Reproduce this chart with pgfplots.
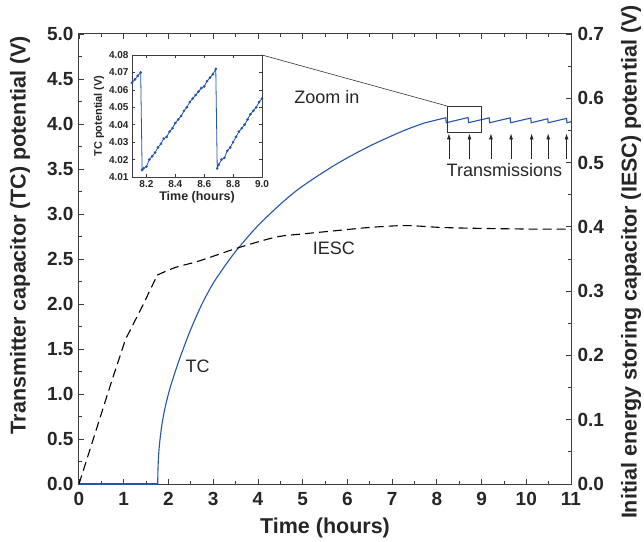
\documentclass[border=0pt]{standalone}
\usepackage{pgfplots}
\pgfplotsset{compat=1.18}
\usepackage{fontspec}
\setmainfont{Liberation Sans}
\usetikzlibrary{arrows.meta}
\definecolor{tcblue}{RGB}{35,85,170}
\definecolor{axgray}{RGB}{60,60,60}
\begin{document}
\begin{tikzpicture}
\begin{axis}[name=main, at={(0pt,0pt)}, anchor=south west,
  width=492pt, height=450pt, scale only axis,
  xmin=0, xmax=11, ymin=0, ymax=5,
  xtick={0,1,2,3,4,5,6,7,8,9,10,11},
  ytick={0,0.5,1,1.5,2,2.5,3,3.5,4,4.5,5},
  minor x tick num=1, minor y tick num=1,
  tick align=inside, ytick pos=left, xtick pos=both,
  major tick length=5pt, minor tick length=3pt,
  axis line style={axgray, line width=1pt},
  every tick/.style={axgray, line width=0.8pt},
  /pgf/number format/assume math mode=true,
  ticklabel style={font=\fontsize{19}{19}\selectfont\bfseries, text=black!85},
  yticklabel style={xshift=-2pt, /pgf/number format/.cd, fixed, fixed zerofill, precision=1},
  xticklabel style={yshift=-5pt},
  xlabel={Time (hours)}, ylabel={Transmitter capacitor (TC) potential (V)},
  label style={font=\fontsize{21.5}{21.5}\selectfont\bfseries, text=black!85},
  xlabel style={at={(axis description cs:0.5,-0.098)}, anchor=center},
  ylabel style={at={(axis description cs:-0.12,0.553)}, anchor=center},
]
\addplot[tcblue, line width=1.1pt] coordinates {(0,0) (1.76,0)};
\addplot[tcblue, line width=1.1pt, smooth] coordinates {
(1.76,0) (1.765,0.15) (1.78,0.32) (1.81,0.49) (1.86,0.68) (1.93,0.86) (2.02,1.04)
(2.12,1.20) (2.22,1.35) (2.33,1.50) (2.5,1.72) (2.74,1.99) (3.0,2.23) (3.3,2.45)
(3.56,2.62) (4.0,2.87) (4.55,3.13) (5.0,3.31) (5.74,3.55) (6.48,3.75) (7.23,3.92) (7.71,4.01)
};
\addplot[tcblue, line width=1.1pt] coordinates {
(7.71,4.01) (8.20,4.070) (8.21,4.014) (8.70,4.072) (8.71,4.015) (9.17,4.068) (9.18,4.014)
(9.64,4.068) (9.65,4.014) (10.10,4.066) (10.11,4.014) (10.48,4.058) (10.49,4.014)
(10.90,4.062) (10.91,4.014) (11.0,4.025)
};
\draw[black!80, line width=0.8pt] (axis cs:8.23,3.91) rectangle (axis cs:9.0,4.20);
\coordinate (zb) at (axis cs:8.23,4.20);
\draw[black!85, line width=0.7pt, -{Latex[length=6pt,width=4pt]}] (axis cs:8.27,3.61) -- (axis cs:8.27,3.895);
\draw[black!85, line width=0.7pt, -{Latex[length=6pt,width=4pt]}] (axis cs:8.73,3.61) -- (axis cs:8.73,3.895);
\draw[black!85, line width=0.7pt, -{Latex[length=6pt,width=4pt]}] (axis cs:9.21,3.61) -- (axis cs:9.21,3.895);
\draw[black!85, line width=0.7pt, -{Latex[length=6pt,width=4pt]}] (axis cs:9.66,3.61) -- (axis cs:9.66,3.895);
\draw[black!85, line width=0.7pt, -{Latex[length=6pt,width=4pt]}] (axis cs:10.12,3.61) -- (axis cs:10.12,3.895);
\draw[black!85, line width=0.7pt, -{Latex[length=6pt,width=4pt]}] (axis cs:10.49,3.61) -- (axis cs:10.49,3.895);
\draw[black!85, line width=0.7pt, -{Latex[length=6pt,width=4pt]}] (axis cs:10.90,3.61) -- (axis cs:10.90,3.895);
\node[font=\fontsize{18}{18}\selectfont, text=black!85] at (axis cs:9.51,3.49) {Transmissions};
\node[font=\fontsize{18}{18}\selectfont, text=black!85] at (axis cs:5.54,4.30) {Zoom in};
\node[font=\fontsize{18}{18}\selectfont, text=black!85] at (axis cs:5.70,2.62) {IESC};
\node[font=\fontsize{18}{18}\selectfont, text=black!85] at (axis cs:2.65,1.31) {TC};
\end{axis}
\begin{axis}[at={(0pt,0pt)}, anchor=south west,
  width=492pt, height=450pt, scale only axis,
  xmin=0, xmax=11, ymin=0, ymax=0.7,
  axis x line=none, axis y line*=right,
  ytick={0,0.1,0.2,0.3,0.4,0.5,0.6,0.7},
  minor y tick num=1, tick align=inside,
  major tick length=5pt, minor tick length=3pt,
  axis line style={axgray, line width=1pt},
  every tick/.style={axgray, line width=0.8pt},
  /pgf/number format/assume math mode=true,
  ticklabel style={font=\fontsize{19}{19}\selectfont\bfseries, text=black!85},
  yticklabel style={xshift=3pt, /pgf/number format/.cd, fixed, fixed zerofill, precision=1},
  ylabel={Initial energy storing capacitor (IESC) potential (V)},
  label style={font=\fontsize{21.5}{21.5}\selectfont\bfseries, text=black!85},
  ylabel style={at={(axis description cs:1.122,0.493)}, anchor=center},
]
\addplot[black, line width=1.1pt, dash pattern=on 9pt off 5pt] coordinates {
(0,0) (0.74,0.162) (1.04,0.225) (1.42,0.277) (1.75,0.325)
};
\addplot[black, line width=1.1pt, dash pattern=on 9pt off 5pt, smooth] coordinates {
(1.75,0.325) (2.16,0.337) (2.69,0.347) (3.54,0.367) (4.4,0.384) (5.0,0.389)
(5.74,0.394) (6.48,0.399) (7.3,0.402) (8.12,0.399) (9.08,0.3975) (10.2,0.3965) (11,0.3965)
};
\end{axis}
\begin{axis}[name=inset, at={(53pt,307pt)}, anchor=south west,
  width=130pt, height=122pt, scale only axis,
  axis background/.style={fill=white},
  xmin=8.1, xmax=9.0, ymin=4.01, ymax=4.08,
  xtick={8.2,8.4,8.6,8.8,9.0},
  ytick={4.01,4.02,4.03,4.04,4.05,4.06,4.07,4.08},
  tick align=inside, xtick pos=both, ytick pos=both,
  major tick length=3pt,
  axis line style={axgray, line width=0.8pt},
  every tick/.style={axgray, line width=0.6pt},
  /pgf/number format/assume math mode=true,
  ticklabel style={font=\fontsize{10}{10}\selectfont\bfseries, text=black!85},
  xticklabel style={/pgf/number format/.cd, fixed, fixed zerofill, precision=1},
  yticklabel style={/pgf/number format/.cd, fixed, fixed zerofill, precision=2},
  xlabel={Time (hours)}, ylabel={TC potential (V)},
  xlabel style={font=\fontsize{12.5}{12.5}\selectfont\bfseries, text=black!85, yshift=3pt},
  ylabel style={font=\fontsize{11}{11}\selectfont\bfseries, text=black!85, yshift=-2pt},
]
\addplot[tcblue, line width=0.8pt, mark=*, mark size=0.9pt] coordinates {
(8.10,4.064) (8.12,4.066) (8.14,4.068) (8.16,4.070)
(8.17,4.014) (8.18,4.015) (8.20,4.016) (8.22,4.020) (8.24,4.022) (8.26,4.024)
(8.28,4.027) (8.30,4.029) (8.32,4.032) (8.34,4.033) (8.36,4.036) (8.38,4.038)
(8.40,4.041) (8.42,4.043) (8.44,4.045) (8.46,4.048) (8.48,4.050) (8.50,4.053)
(8.52,4.055) (8.54,4.057) (8.56,4.059) (8.58,4.061) (8.60,4.062) (8.62,4.065)
(8.64,4.067) (8.66,4.069) (8.68,4.072)
(8.69,4.015) (8.70,4.017) (8.72,4.020) (8.74,4.021) (8.76,4.025) (8.78,4.027)
(8.80,4.030) (8.82,4.033) (8.84,4.036) (8.86,4.038) (8.88,4.040) (8.90,4.043)
(8.92,4.046) (8.94,4.048) (8.96,4.050) (8.98,4.053) (9.00,4.055)
};
\end{axis}
\draw[black!80, line width=0.6pt] (inset.north east) -- (zb);
\pgfresetboundingbox
\path[use as bounding box] (-79pt,-57pt) rectangle (565pt,484pt);
\end{tikzpicture}
\end{document}
